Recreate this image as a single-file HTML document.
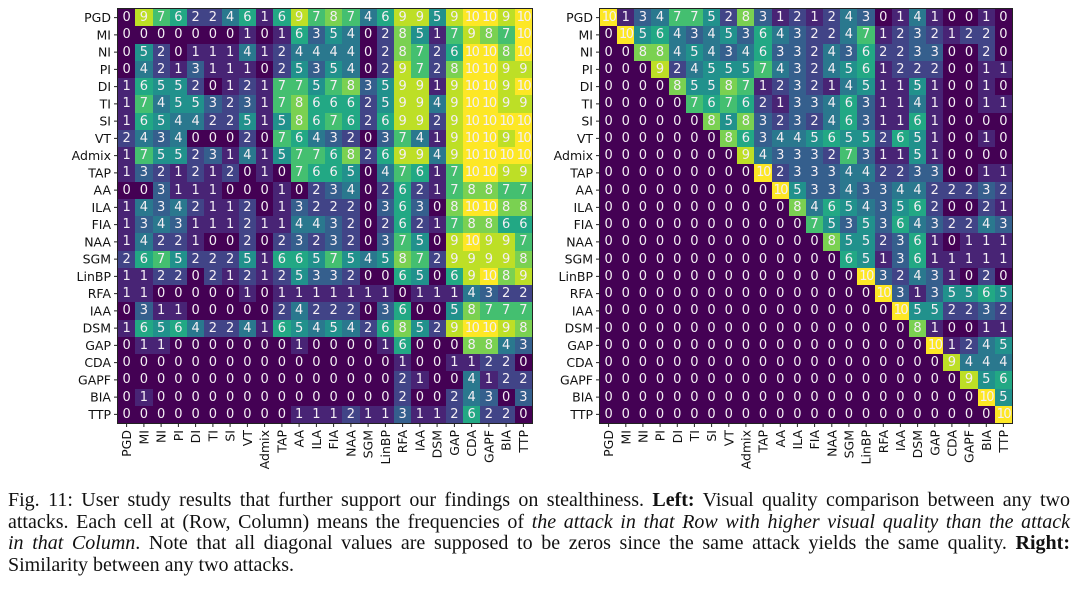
<!DOCTYPE html>
<html><head><meta charset="utf-8"><style>
body{margin:0;width:1080px;height:590px;background:#fff;position:relative;overflow:hidden}
.g{position:absolute;top:9px;height:414px;display:grid;grid-template-columns:repeat(24,1fr);grid-template-rows:repeat(24,1fr);outline:1px solid #222}
.g i{font-style:normal;display:flex;align-items:center;justify-content:center;color:#f4eef4;font-family:"DejaVu Sans",sans-serif;font-size:13px;overflow:visible;white-space:nowrap}
.a0{background:#440154}.a1{background:#482475}.a2{background:#414487}.a3{background:#355f8d}.a4{background:#2a788e}.a5{background:#21918c}.a6{background:#22a884}.a7{background:#44bf70}.a8{background:#7ad151}.a9{background:#bddf26}.a10{background:#fde725;letter-spacing:-1.5px}
svg{position:absolute;left:0;top:0}
svg text{font-family:"DejaVu Sans",sans-serif;font-size:12.5px;fill:#111}
.cap{position:absolute;left:8px;width:1062px;top:490px;font-family:"Liberation Serif",serif;font-size:20px;line-height:21.7px;color:#111}
.cap div{text-align:justify;text-align-last:justify;white-space:nowrap}
.cap div.l{text-align-last:left}
</style></head><body>
<div class="g" style="left:118px;width:414px">
<i class=a0>0</i><i class=a9>9</i><i class=a7>7</i><i class=a6>6</i><i class=a2>2</i><i class=a2>2</i><i class=a4>4</i><i class=a6>6</i><i class=a1>1</i><i class=a6>6</i><i class=a9>9</i><i class=a7>7</i><i class=a8>8</i><i class=a7>7</i><i class=a4>4</i><i class=a6>6</i><i class=a9>9</i><i class=a9>9</i><i class=a5>5</i><i class=a9>9</i><i class=a10>10</i><i class=a10>10</i><i class=a9>9</i><i class=a10>10</i>
<i class=a0>0</i><i class=a0>0</i><i class=a0>0</i><i class=a0>0</i><i class=a0>0</i><i class=a0>0</i><i class=a0>0</i><i class=a1>1</i><i class=a0>0</i><i class=a1>1</i><i class=a6>6</i><i class=a3>3</i><i class=a5>5</i><i class=a4>4</i><i class=a0>0</i><i class=a2>2</i><i class=a8>8</i><i class=a5>5</i><i class=a1>1</i><i class=a7>7</i><i class=a9>9</i><i class=a8>8</i><i class=a7>7</i><i class=a10>10</i>
<i class=a0>0</i><i class=a5>5</i><i class=a2>2</i><i class=a0>0</i><i class=a1>1</i><i class=a1>1</i><i class=a1>1</i><i class=a4>4</i><i class=a1>1</i><i class=a2>2</i><i class=a4>4</i><i class=a4>4</i><i class=a4>4</i><i class=a4>4</i><i class=a0>0</i><i class=a2>2</i><i class=a8>8</i><i class=a7>7</i><i class=a2>2</i><i class=a6>6</i><i class=a10>10</i><i class=a10>10</i><i class=a8>8</i><i class=a10>10</i>
<i class=a0>0</i><i class=a4>4</i><i class=a2>2</i><i class=a1>1</i><i class=a3>3</i><i class=a1>1</i><i class=a1>1</i><i class=a1>1</i><i class=a0>0</i><i class=a2>2</i><i class=a5>5</i><i class=a3>3</i><i class=a5>5</i><i class=a4>4</i><i class=a0>0</i><i class=a2>2</i><i class=a9>9</i><i class=a7>7</i><i class=a2>2</i><i class=a8>8</i><i class=a10>10</i><i class=a10>10</i><i class=a9>9</i><i class=a9>9</i>
<i class=a1>1</i><i class=a6>6</i><i class=a5>5</i><i class=a5>5</i><i class=a2>2</i><i class=a0>0</i><i class=a1>1</i><i class=a2>2</i><i class=a1>1</i><i class=a7>7</i><i class=a7>7</i><i class=a5>5</i><i class=a7>7</i><i class=a8>8</i><i class=a3>3</i><i class=a5>5</i><i class=a9>9</i><i class=a9>9</i><i class=a1>1</i><i class=a9>9</i><i class=a10>10</i><i class=a10>10</i><i class=a9>9</i><i class=a10>10</i>
<i class=a1>1</i><i class=a7>7</i><i class=a4>4</i><i class=a5>5</i><i class=a5>5</i><i class=a3>3</i><i class=a2>2</i><i class=a3>3</i><i class=a1>1</i><i class=a7>7</i><i class=a8>8</i><i class=a6>6</i><i class=a6>6</i><i class=a6>6</i><i class=a2>2</i><i class=a5>5</i><i class=a9>9</i><i class=a9>9</i><i class=a4>4</i><i class=a9>9</i><i class=a10>10</i><i class=a10>10</i><i class=a9>9</i><i class=a9>9</i>
<i class=a1>1</i><i class=a6>6</i><i class=a5>5</i><i class=a4>4</i><i class=a4>4</i><i class=a2>2</i><i class=a2>2</i><i class=a5>5</i><i class=a1>1</i><i class=a5>5</i><i class=a8>8</i><i class=a6>6</i><i class=a7>7</i><i class=a6>6</i><i class=a2>2</i><i class=a6>6</i><i class=a9>9</i><i class=a9>9</i><i class=a2>2</i><i class=a9>9</i><i class=a10>10</i><i class=a10>10</i><i class=a10>10</i><i class=a10>10</i>
<i class=a2>2</i><i class=a4>4</i><i class=a3>3</i><i class=a4>4</i><i class=a0>0</i><i class=a0>0</i><i class=a0>0</i><i class=a2>2</i><i class=a0>0</i><i class=a7>7</i><i class=a6>6</i><i class=a4>4</i><i class=a3>3</i><i class=a2>2</i><i class=a0>0</i><i class=a3>3</i><i class=a7>7</i><i class=a4>4</i><i class=a1>1</i><i class=a9>9</i><i class=a10>10</i><i class=a10>10</i><i class=a9>9</i><i class=a10>10</i>
<i class=a1>1</i><i class=a7>7</i><i class=a5>5</i><i class=a5>5</i><i class=a2>2</i><i class=a3>3</i><i class=a1>1</i><i class=a4>4</i><i class=a1>1</i><i class=a5>5</i><i class=a7>7</i><i class=a7>7</i><i class=a6>6</i><i class=a8>8</i><i class=a2>2</i><i class=a6>6</i><i class=a9>9</i><i class=a9>9</i><i class=a4>4</i><i class=a9>9</i><i class=a10>10</i><i class=a10>10</i><i class=a10>10</i><i class=a10>10</i>
<i class=a1>1</i><i class=a3>3</i><i class=a2>2</i><i class=a1>1</i><i class=a2>2</i><i class=a1>1</i><i class=a2>2</i><i class=a0>0</i><i class=a1>1</i><i class=a0>0</i><i class=a7>7</i><i class=a6>6</i><i class=a6>6</i><i class=a5>5</i><i class=a0>0</i><i class=a4>4</i><i class=a7>7</i><i class=a6>6</i><i class=a1>1</i><i class=a7>7</i><i class=a10>10</i><i class=a10>10</i><i class=a9>9</i><i class=a9>9</i>
<i class=a0>0</i><i class=a0>0</i><i class=a3>3</i><i class=a1>1</i><i class=a1>1</i><i class=a1>1</i><i class=a0>0</i><i class=a0>0</i><i class=a0>0</i><i class=a1>1</i><i class=a0>0</i><i class=a2>2</i><i class=a3>3</i><i class=a4>4</i><i class=a0>0</i><i class=a2>2</i><i class=a6>6</i><i class=a2>2</i><i class=a1>1</i><i class=a7>7</i><i class=a8>8</i><i class=a8>8</i><i class=a7>7</i><i class=a7>7</i>
<i class=a1>1</i><i class=a4>4</i><i class=a3>3</i><i class=a4>4</i><i class=a2>2</i><i class=a1>1</i><i class=a1>1</i><i class=a2>2</i><i class=a0>0</i><i class=a1>1</i><i class=a3>3</i><i class=a2>2</i><i class=a2>2</i><i class=a2>2</i><i class=a0>0</i><i class=a3>3</i><i class=a6>6</i><i class=a3>3</i><i class=a0>0</i><i class=a8>8</i><i class=a10>10</i><i class=a10>10</i><i class=a8>8</i><i class=a8>8</i>
<i class=a1>1</i><i class=a3>3</i><i class=a4>4</i><i class=a3>3</i><i class=a1>1</i><i class=a1>1</i><i class=a1>1</i><i class=a2>2</i><i class=a1>1</i><i class=a1>1</i><i class=a4>4</i><i class=a4>4</i><i class=a3>3</i><i class=a2>2</i><i class=a0>0</i><i class=a2>2</i><i class=a6>6</i><i class=a2>2</i><i class=a1>1</i><i class=a7>7</i><i class=a8>8</i><i class=a8>8</i><i class=a6>6</i><i class=a6>6</i>
<i class=a1>1</i><i class=a4>4</i><i class=a2>2</i><i class=a2>2</i><i class=a1>1</i><i class=a0>0</i><i class=a0>0</i><i class=a2>2</i><i class=a0>0</i><i class=a2>2</i><i class=a3>3</i><i class=a2>2</i><i class=a3>3</i><i class=a2>2</i><i class=a0>0</i><i class=a3>3</i><i class=a7>7</i><i class=a5>5</i><i class=a0>0</i><i class=a9>9</i><i class=a10>10</i><i class=a9>9</i><i class=a9>9</i><i class=a7>7</i>
<i class=a2>2</i><i class=a6>6</i><i class=a7>7</i><i class=a5>5</i><i class=a2>2</i><i class=a2>2</i><i class=a2>2</i><i class=a5>5</i><i class=a1>1</i><i class=a6>6</i><i class=a6>6</i><i class=a5>5</i><i class=a7>7</i><i class=a5>5</i><i class=a4>4</i><i class=a5>5</i><i class=a8>8</i><i class=a7>7</i><i class=a2>2</i><i class=a9>9</i><i class=a9>9</i><i class=a9>9</i><i class=a9>9</i><i class=a8>8</i>
<i class=a1>1</i><i class=a1>1</i><i class=a2>2</i><i class=a2>2</i><i class=a0>0</i><i class=a2>2</i><i class=a1>1</i><i class=a2>2</i><i class=a1>1</i><i class=a2>2</i><i class=a5>5</i><i class=a3>3</i><i class=a3>3</i><i class=a2>2</i><i class=a0>0</i><i class=a0>0</i><i class=a6>6</i><i class=a5>5</i><i class=a0>0</i><i class=a6>6</i><i class=a9>9</i><i class=a10>10</i><i class=a8>8</i><i class=a9>9</i>
<i class=a1>1</i><i class=a1>1</i><i class=a0>0</i><i class=a0>0</i><i class=a0>0</i><i class=a0>0</i><i class=a0>0</i><i class=a1>1</i><i class=a0>0</i><i class=a1>1</i><i class=a1>1</i><i class=a1>1</i><i class=a1>1</i><i class=a1>1</i><i class=a1>1</i><i class=a1>1</i><i class=a0>0</i><i class=a1>1</i><i class=a1>1</i><i class=a1>1</i><i class=a4>4</i><i class=a3>3</i><i class=a2>2</i><i class=a2>2</i>
<i class=a0>0</i><i class=a3>3</i><i class=a1>1</i><i class=a1>1</i><i class=a0>0</i><i class=a0>0</i><i class=a0>0</i><i class=a0>0</i><i class=a0>0</i><i class=a2>2</i><i class=a4>4</i><i class=a2>2</i><i class=a2>2</i><i class=a2>2</i><i class=a0>0</i><i class=a3>3</i><i class=a6>6</i><i class=a0>0</i><i class=a0>0</i><i class=a5>5</i><i class=a8>8</i><i class=a7>7</i><i class=a7>7</i><i class=a7>7</i>
<i class=a1>1</i><i class=a6>6</i><i class=a5>5</i><i class=a6>6</i><i class=a4>4</i><i class=a2>2</i><i class=a2>2</i><i class=a4>4</i><i class=a1>1</i><i class=a6>6</i><i class=a5>5</i><i class=a4>4</i><i class=a5>5</i><i class=a4>4</i><i class=a2>2</i><i class=a6>6</i><i class=a8>8</i><i class=a5>5</i><i class=a2>2</i><i class=a9>9</i><i class=a10>10</i><i class=a10>10</i><i class=a9>9</i><i class=a8>8</i>
<i class=a0>0</i><i class=a1>1</i><i class=a1>1</i><i class=a0>0</i><i class=a0>0</i><i class=a0>0</i><i class=a0>0</i><i class=a0>0</i><i class=a0>0</i><i class=a0>0</i><i class=a1>1</i><i class=a0>0</i><i class=a0>0</i><i class=a0>0</i><i class=a0>0</i><i class=a1>1</i><i class=a6>6</i><i class=a0>0</i><i class=a0>0</i><i class=a0>0</i><i class=a8>8</i><i class=a8>8</i><i class=a4>4</i><i class=a3>3</i>
<i class=a0>0</i><i class=a0>0</i><i class=a0>0</i><i class=a0>0</i><i class=a0>0</i><i class=a0>0</i><i class=a0>0</i><i class=a0>0</i><i class=a0>0</i><i class=a0>0</i><i class=a0>0</i><i class=a0>0</i><i class=a0>0</i><i class=a0>0</i><i class=a0>0</i><i class=a0>0</i><i class=a1>1</i><i class=a0>0</i><i class=a0>0</i><i class=a1>1</i><i class=a1>1</i><i class=a2>2</i><i class=a2>2</i><i class=a0>0</i>
<i class=a0>0</i><i class=a0>0</i><i class=a0>0</i><i class=a0>0</i><i class=a0>0</i><i class=a0>0</i><i class=a0>0</i><i class=a0>0</i><i class=a0>0</i><i class=a0>0</i><i class=a0>0</i><i class=a0>0</i><i class=a0>0</i><i class=a0>0</i><i class=a0>0</i><i class=a0>0</i><i class=a2>2</i><i class=a1>1</i><i class=a0>0</i><i class=a0>0</i><i class=a4>4</i><i class=a1>1</i><i class=a2>2</i><i class=a2>2</i>
<i class=a0>0</i><i class=a1>1</i><i class=a0>0</i><i class=a0>0</i><i class=a0>0</i><i class=a0>0</i><i class=a0>0</i><i class=a0>0</i><i class=a0>0</i><i class=a0>0</i><i class=a0>0</i><i class=a0>0</i><i class=a0>0</i><i class=a0>0</i><i class=a0>0</i><i class=a0>0</i><i class=a2>2</i><i class=a0>0</i><i class=a0>0</i><i class=a2>2</i><i class=a4>4</i><i class=a3>3</i><i class=a0>0</i><i class=a3>3</i>
<i class=a0>0</i><i class=a0>0</i><i class=a0>0</i><i class=a0>0</i><i class=a0>0</i><i class=a0>0</i><i class=a0>0</i><i class=a0>0</i><i class=a0>0</i><i class=a0>0</i><i class=a1>1</i><i class=a1>1</i><i class=a1>1</i><i class=a2>2</i><i class=a1>1</i><i class=a1>1</i><i class=a3>3</i><i class=a1>1</i><i class=a1>1</i><i class=a2>2</i><i class=a6>6</i><i class=a2>2</i><i class=a2>2</i><i class=a0>0</i>
</div>
<div class="g" style="left:600px;width:412px">
<i class=a10>10</i><i class=a1>1</i><i class=a3>3</i><i class=a4>4</i><i class=a7>7</i><i class=a7>7</i><i class=a5>5</i><i class=a2>2</i><i class=a8>8</i><i class=a3>3</i><i class=a1>1</i><i class=a2>2</i><i class=a1>1</i><i class=a2>2</i><i class=a4>4</i><i class=a3>3</i><i class=a0>0</i><i class=a1>1</i><i class=a4>4</i><i class=a1>1</i><i class=a0>0</i><i class=a0>0</i><i class=a1>1</i><i class=a0>0</i>
<i class=a0>0</i><i class=a10>10</i><i class=a5>5</i><i class=a6>6</i><i class=a4>4</i><i class=a3>3</i><i class=a4>4</i><i class=a5>5</i><i class=a3>3</i><i class=a6>6</i><i class=a4>4</i><i class=a3>3</i><i class=a2>2</i><i class=a2>2</i><i class=a4>4</i><i class=a7>7</i><i class=a1>1</i><i class=a2>2</i><i class=a3>3</i><i class=a2>2</i><i class=a1>1</i><i class=a2>2</i><i class=a2>2</i><i class=a0>0</i>
<i class=a0>0</i><i class=a0>0</i><i class=a8>8</i><i class=a8>8</i><i class=a4>4</i><i class=a5>5</i><i class=a4>4</i><i class=a3>3</i><i class=a4>4</i><i class=a6>6</i><i class=a3>3</i><i class=a3>3</i><i class=a2>2</i><i class=a4>4</i><i class=a3>3</i><i class=a6>6</i><i class=a2>2</i><i class=a2>2</i><i class=a3>3</i><i class=a3>3</i><i class=a0>0</i><i class=a0>0</i><i class=a2>2</i><i class=a0>0</i>
<i class=a0>0</i><i class=a0>0</i><i class=a0>0</i><i class=a9>9</i><i class=a2>2</i><i class=a4>4</i><i class=a5>5</i><i class=a5>5</i><i class=a5>5</i><i class=a7>7</i><i class=a4>4</i><i class=a3>3</i><i class=a2>2</i><i class=a4>4</i><i class=a5>5</i><i class=a6>6</i><i class=a1>1</i><i class=a2>2</i><i class=a2>2</i><i class=a2>2</i><i class=a0>0</i><i class=a0>0</i><i class=a1>1</i><i class=a1>1</i>
<i class=a0>0</i><i class=a0>0</i><i class=a0>0</i><i class=a0>0</i><i class=a8>8</i><i class=a5>5</i><i class=a5>5</i><i class=a8>8</i><i class=a7>7</i><i class=a1>1</i><i class=a2>2</i><i class=a3>3</i><i class=a2>2</i><i class=a1>1</i><i class=a4>4</i><i class=a5>5</i><i class=a1>1</i><i class=a1>1</i><i class=a5>5</i><i class=a1>1</i><i class=a0>0</i><i class=a0>0</i><i class=a1>1</i><i class=a0>0</i>
<i class=a0>0</i><i class=a0>0</i><i class=a0>0</i><i class=a0>0</i><i class=a0>0</i><i class=a7>7</i><i class=a6>6</i><i class=a7>7</i><i class=a6>6</i><i class=a2>2</i><i class=a1>1</i><i class=a3>3</i><i class=a3>3</i><i class=a4>4</i><i class=a6>6</i><i class=a3>3</i><i class=a1>1</i><i class=a1>1</i><i class=a4>4</i><i class=a1>1</i><i class=a0>0</i><i class=a0>0</i><i class=a1>1</i><i class=a1>1</i>
<i class=a0>0</i><i class=a0>0</i><i class=a0>0</i><i class=a0>0</i><i class=a0>0</i><i class=a0>0</i><i class=a8>8</i><i class=a5>5</i><i class=a8>8</i><i class=a3>3</i><i class=a2>2</i><i class=a3>3</i><i class=a2>2</i><i class=a4>4</i><i class=a6>6</i><i class=a3>3</i><i class=a1>1</i><i class=a1>1</i><i class=a6>6</i><i class=a1>1</i><i class=a0>0</i><i class=a0>0</i><i class=a0>0</i><i class=a0>0</i>
<i class=a0>0</i><i class=a0>0</i><i class=a0>0</i><i class=a0>0</i><i class=a0>0</i><i class=a0>0</i><i class=a0>0</i><i class=a8>8</i><i class=a6>6</i><i class=a3>3</i><i class=a4>4</i><i class=a4>4</i><i class=a5>5</i><i class=a6>6</i><i class=a5>5</i><i class=a5>5</i><i class=a2>2</i><i class=a6>6</i><i class=a5>5</i><i class=a1>1</i><i class=a0>0</i><i class=a0>0</i><i class=a1>1</i><i class=a0>0</i>
<i class=a0>0</i><i class=a0>0</i><i class=a0>0</i><i class=a0>0</i><i class=a0>0</i><i class=a0>0</i><i class=a0>0</i><i class=a0>0</i><i class=a9>9</i><i class=a4>4</i><i class=a3>3</i><i class=a3>3</i><i class=a3>3</i><i class=a2>2</i><i class=a7>7</i><i class=a3>3</i><i class=a1>1</i><i class=a1>1</i><i class=a5>5</i><i class=a1>1</i><i class=a0>0</i><i class=a0>0</i><i class=a0>0</i><i class=a0>0</i>
<i class=a0>0</i><i class=a0>0</i><i class=a0>0</i><i class=a0>0</i><i class=a0>0</i><i class=a0>0</i><i class=a0>0</i><i class=a0>0</i><i class=a0>0</i><i class=a10>10</i><i class=a2>2</i><i class=a3>3</i><i class=a3>3</i><i class=a3>3</i><i class=a4>4</i><i class=a4>4</i><i class=a2>2</i><i class=a2>2</i><i class=a3>3</i><i class=a3>3</i><i class=a0>0</i><i class=a0>0</i><i class=a1>1</i><i class=a1>1</i>
<i class=a0>0</i><i class=a0>0</i><i class=a0>0</i><i class=a0>0</i><i class=a0>0</i><i class=a0>0</i><i class=a0>0</i><i class=a0>0</i><i class=a0>0</i><i class=a0>0</i><i class=a10>10</i><i class=a5>5</i><i class=a3>3</i><i class=a3>3</i><i class=a4>4</i><i class=a3>3</i><i class=a3>3</i><i class=a4>4</i><i class=a4>4</i><i class=a2>2</i><i class=a2>2</i><i class=a2>2</i><i class=a3>3</i><i class=a2>2</i>
<i class=a0>0</i><i class=a0>0</i><i class=a0>0</i><i class=a0>0</i><i class=a0>0</i><i class=a0>0</i><i class=a0>0</i><i class=a0>0</i><i class=a0>0</i><i class=a0>0</i><i class=a0>0</i><i class=a8>8</i><i class=a4>4</i><i class=a6>6</i><i class=a5>5</i><i class=a4>4</i><i class=a3>3</i><i class=a5>5</i><i class=a6>6</i><i class=a2>2</i><i class=a0>0</i><i class=a0>0</i><i class=a2>2</i><i class=a1>1</i>
<i class=a0>0</i><i class=a0>0</i><i class=a0>0</i><i class=a0>0</i><i class=a0>0</i><i class=a0>0</i><i class=a0>0</i><i class=a0>0</i><i class=a0>0</i><i class=a0>0</i><i class=a0>0</i><i class=a0>0</i><i class=a7>7</i><i class=a5>5</i><i class=a3>3</i><i class=a5>5</i><i class=a3>3</i><i class=a6>6</i><i class=a4>4</i><i class=a3>3</i><i class=a2>2</i><i class=a2>2</i><i class=a4>4</i><i class=a3>3</i>
<i class=a0>0</i><i class=a0>0</i><i class=a0>0</i><i class=a0>0</i><i class=a0>0</i><i class=a0>0</i><i class=a0>0</i><i class=a0>0</i><i class=a0>0</i><i class=a0>0</i><i class=a0>0</i><i class=a0>0</i><i class=a0>0</i><i class=a8>8</i><i class=a5>5</i><i class=a5>5</i><i class=a2>2</i><i class=a3>3</i><i class=a6>6</i><i class=a1>1</i><i class=a0>0</i><i class=a1>1</i><i class=a1>1</i><i class=a1>1</i>
<i class=a0>0</i><i class=a0>0</i><i class=a0>0</i><i class=a0>0</i><i class=a0>0</i><i class=a0>0</i><i class=a0>0</i><i class=a0>0</i><i class=a0>0</i><i class=a0>0</i><i class=a0>0</i><i class=a0>0</i><i class=a0>0</i><i class=a0>0</i><i class=a6>6</i><i class=a5>5</i><i class=a1>1</i><i class=a3>3</i><i class=a6>6</i><i class=a1>1</i><i class=a1>1</i><i class=a1>1</i><i class=a1>1</i><i class=a1>1</i>
<i class=a0>0</i><i class=a0>0</i><i class=a0>0</i><i class=a0>0</i><i class=a0>0</i><i class=a0>0</i><i class=a0>0</i><i class=a0>0</i><i class=a0>0</i><i class=a0>0</i><i class=a0>0</i><i class=a0>0</i><i class=a0>0</i><i class=a0>0</i><i class=a0>0</i><i class=a10>10</i><i class=a3>3</i><i class=a2>2</i><i class=a4>4</i><i class=a3>3</i><i class=a1>1</i><i class=a0>0</i><i class=a2>2</i><i class=a0>0</i>
<i class=a0>0</i><i class=a0>0</i><i class=a0>0</i><i class=a0>0</i><i class=a0>0</i><i class=a0>0</i><i class=a0>0</i><i class=a0>0</i><i class=a0>0</i><i class=a0>0</i><i class=a0>0</i><i class=a0>0</i><i class=a0>0</i><i class=a0>0</i><i class=a0>0</i><i class=a0>0</i><i class=a10>10</i><i class=a3>3</i><i class=a1>1</i><i class=a3>3</i><i class=a5>5</i><i class=a5>5</i><i class=a6>6</i><i class=a5>5</i>
<i class=a0>0</i><i class=a0>0</i><i class=a0>0</i><i class=a0>0</i><i class=a0>0</i><i class=a0>0</i><i class=a0>0</i><i class=a0>0</i><i class=a0>0</i><i class=a0>0</i><i class=a0>0</i><i class=a0>0</i><i class=a0>0</i><i class=a0>0</i><i class=a0>0</i><i class=a0>0</i><i class=a0>0</i><i class=a10>10</i><i class=a5>5</i><i class=a5>5</i><i class=a2>2</i><i class=a2>2</i><i class=a3>3</i><i class=a2>2</i>
<i class=a0>0</i><i class=a0>0</i><i class=a0>0</i><i class=a0>0</i><i class=a0>0</i><i class=a0>0</i><i class=a0>0</i><i class=a0>0</i><i class=a0>0</i><i class=a0>0</i><i class=a0>0</i><i class=a0>0</i><i class=a0>0</i><i class=a0>0</i><i class=a0>0</i><i class=a0>0</i><i class=a0>0</i><i class=a0>0</i><i class=a8>8</i><i class=a1>1</i><i class=a0>0</i><i class=a0>0</i><i class=a1>1</i><i class=a1>1</i>
<i class=a0>0</i><i class=a0>0</i><i class=a0>0</i><i class=a0>0</i><i class=a0>0</i><i class=a0>0</i><i class=a0>0</i><i class=a0>0</i><i class=a0>0</i><i class=a0>0</i><i class=a0>0</i><i class=a0>0</i><i class=a0>0</i><i class=a0>0</i><i class=a0>0</i><i class=a0>0</i><i class=a0>0</i><i class=a0>0</i><i class=a0>0</i><i class=a10>10</i><i class=a1>1</i><i class=a2>2</i><i class=a4>4</i><i class=a5>5</i>
<i class=a0>0</i><i class=a0>0</i><i class=a0>0</i><i class=a0>0</i><i class=a0>0</i><i class=a0>0</i><i class=a0>0</i><i class=a0>0</i><i class=a0>0</i><i class=a0>0</i><i class=a0>0</i><i class=a0>0</i><i class=a0>0</i><i class=a0>0</i><i class=a0>0</i><i class=a0>0</i><i class=a0>0</i><i class=a0>0</i><i class=a0>0</i><i class=a0>0</i><i class=a9>9</i><i class=a4>4</i><i class=a4>4</i><i class=a4>4</i>
<i class=a0>0</i><i class=a0>0</i><i class=a0>0</i><i class=a0>0</i><i class=a0>0</i><i class=a0>0</i><i class=a0>0</i><i class=a0>0</i><i class=a0>0</i><i class=a0>0</i><i class=a0>0</i><i class=a0>0</i><i class=a0>0</i><i class=a0>0</i><i class=a0>0</i><i class=a0>0</i><i class=a0>0</i><i class=a0>0</i><i class=a0>0</i><i class=a0>0</i><i class=a0>0</i><i class=a9>9</i><i class=a5>5</i><i class=a6>6</i>
<i class=a0>0</i><i class=a0>0</i><i class=a0>0</i><i class=a0>0</i><i class=a0>0</i><i class=a0>0</i><i class=a0>0</i><i class=a0>0</i><i class=a0>0</i><i class=a0>0</i><i class=a0>0</i><i class=a0>0</i><i class=a0>0</i><i class=a0>0</i><i class=a0>0</i><i class=a0>0</i><i class=a0>0</i><i class=a0>0</i><i class=a0>0</i><i class=a0>0</i><i class=a0>0</i><i class=a0>0</i><i class=a10>10</i><i class=a5>5</i>
<i class=a0>0</i><i class=a0>0</i><i class=a0>0</i><i class=a0>0</i><i class=a0>0</i><i class=a0>0</i><i class=a0>0</i><i class=a0>0</i><i class=a0>0</i><i class=a0>0</i><i class=a0>0</i><i class=a0>0</i><i class=a0>0</i><i class=a0>0</i><i class=a0>0</i><i class=a0>0</i><i class=a0>0</i><i class=a0>0</i><i class=a0>0</i><i class=a0>0</i><i class=a0>0</i><i class=a0>0</i><i class=a0>0</i><i class=a10>10</i>
</div>
<svg width="1080" height="590">
<g stroke="#222" stroke-width="1">
<path d="M114,17.6h4M114,34.9h4M114,52.1h4M114,69.4h4M114,86.6h4M114,103.9h4M114,121.1h4M114,138.4h4M114,155.6h4M114,172.9h4M114,190.1h4M114,207.4h4M114,224.6h4M114,241.9h4M114,259.1h4M114,276.4h4M114,293.6h4M114,310.9h4M114,328.1h4M114,345.4h4M114,362.6h4M114,379.9h4M114,397.1h4M114,414.4h4"/>
<path d="M596,17.6h4M596,34.9h4M596,52.1h4M596,69.4h4M596,86.6h4M596,103.9h4M596,121.1h4M596,138.4h4M596,155.6h4M596,172.9h4M596,190.1h4M596,207.4h4M596,224.6h4M596,241.9h4M596,259.1h4M596,276.4h4M596,293.6h4M596,310.9h4M596,328.1h4M596,345.4h4M596,362.6h4M596,379.9h4M596,397.1h4M596,414.4h4"/>
<path d="M126.6,423v4M143.9,423v4M161.1,423v4M178.4,423v4M195.6,423v4M212.9,423v4M230.1,423v4M247.4,423v4M264.6,423v4M281.9,423v4M299.1,423v4M316.4,423v4M333.6,423v4M350.9,423v4M368.1,423v4M385.4,423v4M402.6,423v4M419.9,423v4M437.1,423v4M454.4,423v4M471.6,423v4M488.9,423v4M506.1,423v4M523.4,423v4"/>
<path d="M608.6,423v4M625.8,423v4M642.9,423v4M660.1,423v4M677.3,423v4M694.4,423v4M711.6,423v4M728.8,423v4M745.9,423v4M763.1,423v4M780.3,423v4M797.4,423v4M814.6,423v4M831.8,423v4M848.9,423v4M866.1,423v4M883.3,423v4M900.4,423v4M917.6,423v4M934.8,423v4M951.9,423v4M969.1,423v4M986.3,423v4M1003.4,423v4"/>
</g>
<g text-anchor="end" dominant-baseline="central">
<text x="111" y="17.6">PGD</text><text x="111" y="34.9">MI</text><text x="111" y="52.1">NI</text><text x="111" y="69.4">PI</text><text x="111" y="86.6">DI</text><text x="111" y="103.9">TI</text><text x="111" y="121.1">SI</text><text x="111" y="138.4">VT</text><text x="111" y="155.6">Admix</text><text x="111" y="172.9">TAP</text><text x="111" y="190.1">AA</text><text x="111" y="207.4">ILA</text><text x="111" y="224.6">FIA</text><text x="111" y="241.9">NAA</text><text x="111" y="259.1">SGM</text><text x="111" y="276.4">LinBP</text><text x="111" y="293.6">RFA</text><text x="111" y="310.9">IAA</text><text x="111" y="328.1">DSM</text><text x="111" y="345.4">GAP</text><text x="111" y="362.6">CDA</text><text x="111" y="379.9">GAPF</text><text x="111" y="397.1">BIA</text><text x="111" y="414.4">TTP</text>
<text x="593" y="17.6">PGD</text><text x="593" y="34.9">MI</text><text x="593" y="52.1">NI</text><text x="593" y="69.4">PI</text><text x="593" y="86.6">DI</text><text x="593" y="103.9">TI</text><text x="593" y="121.1">SI</text><text x="593" y="138.4">VT</text><text x="593" y="155.6">Admix</text><text x="593" y="172.9">TAP</text><text x="593" y="190.1">AA</text><text x="593" y="207.4">ILA</text><text x="593" y="224.6">FIA</text><text x="593" y="241.9">NAA</text><text x="593" y="259.1">SGM</text><text x="593" y="276.4">LinBP</text><text x="593" y="293.6">RFA</text><text x="593" y="310.9">IAA</text><text x="593" y="328.1">DSM</text><text x="593" y="345.4">GAP</text><text x="593" y="362.6">CDA</text><text x="593" y="379.9">GAPF</text><text x="593" y="397.1">BIA</text><text x="593" y="414.4">TTP</text>
<text transform="translate(126.6,430) rotate(-90)">PGD</text><text transform="translate(143.9,430) rotate(-90)">MI</text><text transform="translate(161.1,430) rotate(-90)">NI</text><text transform="translate(178.4,430) rotate(-90)">PI</text><text transform="translate(195.6,430) rotate(-90)">DI</text><text transform="translate(212.9,430) rotate(-90)">TI</text><text transform="translate(230.1,430) rotate(-90)">SI</text><text transform="translate(247.4,430) rotate(-90)">VT</text><text transform="translate(264.6,430) rotate(-90)">Admix</text><text transform="translate(281.9,430) rotate(-90)">TAP</text><text transform="translate(299.1,430) rotate(-90)">AA</text><text transform="translate(316.4,430) rotate(-90)">ILA</text><text transform="translate(333.6,430) rotate(-90)">FIA</text><text transform="translate(350.9,430) rotate(-90)">NAA</text><text transform="translate(368.1,430) rotate(-90)">SGM</text><text transform="translate(385.4,430) rotate(-90)">LinBP</text><text transform="translate(402.6,430) rotate(-90)">RFA</text><text transform="translate(419.9,430) rotate(-90)">IAA</text><text transform="translate(437.1,430) rotate(-90)">DSM</text><text transform="translate(454.4,430) rotate(-90)">GAP</text><text transform="translate(471.6,430) rotate(-90)">CDA</text><text transform="translate(488.9,430) rotate(-90)">GAPF</text><text transform="translate(506.1,430) rotate(-90)">BIA</text><text transform="translate(523.4,430) rotate(-90)">TTP</text>
<text transform="translate(608.6,430) rotate(-90)">PGD</text><text transform="translate(625.8,430) rotate(-90)">MI</text><text transform="translate(642.9,430) rotate(-90)">NI</text><text transform="translate(660.1,430) rotate(-90)">PI</text><text transform="translate(677.3,430) rotate(-90)">DI</text><text transform="translate(694.4,430) rotate(-90)">TI</text><text transform="translate(711.6,430) rotate(-90)">SI</text><text transform="translate(728.8,430) rotate(-90)">VT</text><text transform="translate(745.9,430) rotate(-90)">Admix</text><text transform="translate(763.1,430) rotate(-90)">TAP</text><text transform="translate(780.3,430) rotate(-90)">AA</text><text transform="translate(797.4,430) rotate(-90)">ILA</text><text transform="translate(814.6,430) rotate(-90)">FIA</text><text transform="translate(831.8,430) rotate(-90)">NAA</text><text transform="translate(848.9,430) rotate(-90)">SGM</text><text transform="translate(866.1,430) rotate(-90)">LinBP</text><text transform="translate(883.3,430) rotate(-90)">RFA</text><text transform="translate(900.4,430) rotate(-90)">IAA</text><text transform="translate(917.6,430) rotate(-90)">DSM</text><text transform="translate(934.8,430) rotate(-90)">GAP</text><text transform="translate(951.9,430) rotate(-90)">CDA</text><text transform="translate(969.1,430) rotate(-90)">GAPF</text><text transform="translate(986.3,430) rotate(-90)">BIA</text><text transform="translate(1003.4,430) rotate(-90)">TTP</text>
</g>
</svg>
<div class="cap">
<div>Fig. 11: User study results that further support our findings on stealthiness. <b>Left:</b> Visual quality comparison between any two</div>
<div>attacks. Each cell at (Row, Column) means the frequencies of <i>the attack in that Row with higher visual quality than the attack</i></div>
<div><i>in that Column</i>. Note that all diagonal values are supposed to be zeros since the same attack yields the same quality. <b>Right:</b></div>
<div class="l">Similarity between any two attacks.</div>
</div>
</body></html>
